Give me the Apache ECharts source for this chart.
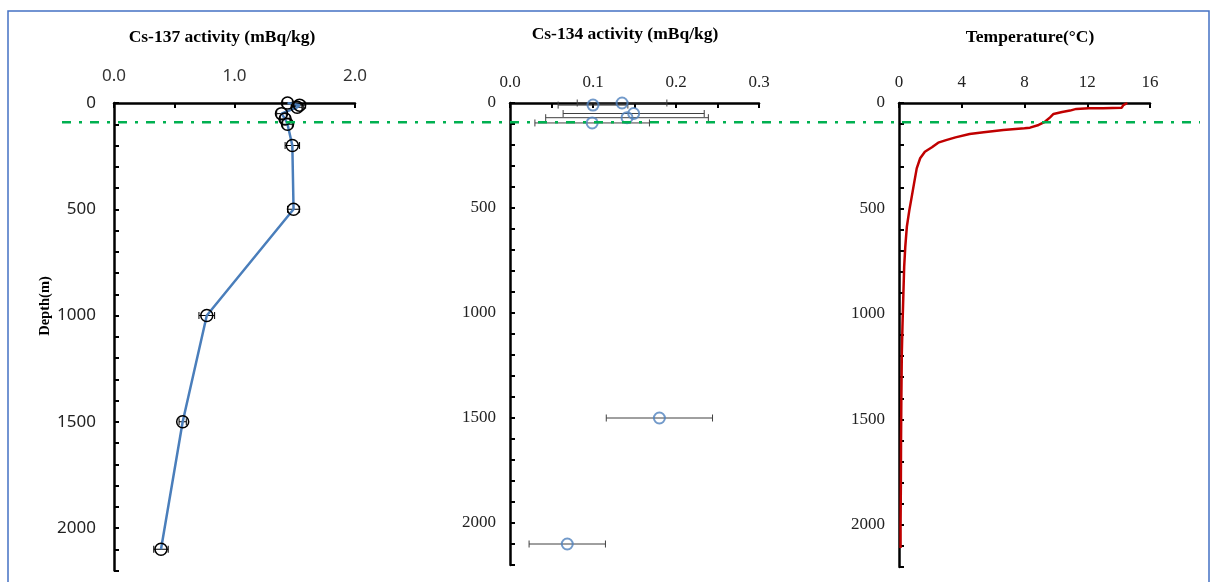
<!DOCTYPE html>
<html>
<head>
<meta charset="utf-8">
<script src="https://cdn.jsdelivr.net/npm/echarts@6/dist/echarts.min.js"></script>
<style>html,body{margin:0;padding:0;background:#fff;}#c{width:1212px;height:582px;}</style>
</head>
<body>
<div id="c"></div>
<script>
// ---- data ----
const cs137Depth = [0, 10, 20, 50, 75, 100, 200, 500, 1000, 1500, 2100];
const cs137Value = [1.44, 1.54, 1.52, 1.39, 1.42, 1.44, 1.48, 1.49, 0.77, 0.57, 0.39];
const cs137Error = [0.04, 0.05, 0.04, 0.04, 0.04, 0.04, 0.06, 0.05, 0.065, 0.03, 0.06];

const cs134Depth = [0, 10, 50, 70, 95, 1500, 2100];
const cs134Value = [0.135, 0.100, 0.149, 0.141, 0.099, 0.180, 0.069];
const cs134Error = [0.054, 0.042, 0.085, 0.098, 0.069, 0.064, 0.046];

const tempDepth = [0, 10, 22, 25, 25, 28, 36, 43, 52, 68, 89, 104, 117, 120, 128, 139, 147, 163, 176, 188, 210, 231, 262, 310, 381, 445, 508, 587, 682, 777, 903, 1062, 1187, 1400, 1600, 1800, 2000, 2110];
const tempValue = [14.55, 14.3, 14.2, 13.0, 12.1, 11.3, 10.9, 10.4, 9.85, 9.63, 9.3, 8.9, 8.35, 8.0, 6.65, 5.4, 4.5, 3.6, 3.0, 2.5, 2.1, 1.65, 1.35, 1.13, 0.96, 0.81, 0.66, 0.5, 0.4, 0.33, 0.28, 0.22, 0.18, 0.15, 0.13, 0.12, 0.1, 0.1];

const mixedLayerDepth = 90;

const panelTitles = ['Cs-137 activity (mBq/kg)', 'Cs-134 activity (mBq/kg)', 'Temperature(\u00B0C)'];
const depthLabel = 'Depth(m)';
const depthTicks = { min: 0, max: 2200, step: 100, labelStep: 500 };

// ---- build ----
const serif = 'Liberation Serif';
const sans = 'Noto Sans';
const cs137Pts = cs137Depth.map((d, i) => [cs137Value[i], d, cs137Error[i]]);
const cs134Pts = cs134Depth.map((d, i) => [cs134Value[i], d, cs134Error[i]]);
const tempPts = tempDepth.map((d, i) => [tempValue[i], d]);

function errRender(color) {
  return function (params, api) {
    const x = api.value(0), y = api.value(1), e = api.value(2);
    const a = api.coord([x - e, y]), b = api.coord([x + e, y]);
    const h = 3.5;
    const st = { stroke: color, lineWidth: 1 };
    return { type: 'group', children: [
      { type: 'line', shape: { x1: a[0], y1: a[1], x2: b[0], y2: b[1] }, style: st },
      { type: 'line', shape: { x1: a[0], y1: a[1] - h, x2: a[0], y2: a[1] + h }, style: st },
      { type: 'line', shape: { x1: b[0], y1: b[1] - h, x2: b[0], y2: b[1] + h }, style: st }
    ]};
  };
}

const axisLine = { show: true, onZero: false, lineStyle: { color: '#000', width: 2.5 } };
const axisTick = { show: true, inside: true, length: 5, lineStyle: { color: '#000', width: 2 } };

function yAx(gi, font, size, margin) {
  return {
    type: 'value', gridIndex: gi, inverse: true,
    min: depthTicks.min, max: depthTicks.max, interval: depthTicks.step,
    axisLine, axisTick, splitLine: { show: false },
    axisLabel: { margin, fontFamily: font, fontSize: size, color: '#222',
      formatter: v => (Math.round(v) % depthTicks.labelStep === 0 ? String(Math.round(v)) : '') }
  };
}

const option = {
  animation: false,
  backgroundColor: '#fff',
  grid: [
    { left: 114, top: 103, width: 241, height: 467.5 },
    { left: 510, top: 103, width: 249, height: 462 },
    { left: 899, top: 103, width: 251, height: 464 }
  ],
  xAxis: [
    { type: 'value', gridIndex: 0, position: 'top', min: 0, max: 2, interval: 0.5,
      axisLine, axisTick, splitLine: { show: false },
      axisLabel: { margin: 18, fontFamily: sans, fontSize: 17, color: '#333',
        formatter: v => (Math.abs(v - Math.round(v)) < 1e-6 ? v.toFixed(1) : '') } },
    { type: 'value', gridIndex: 1, position: 'top', min: 0, max: 0.3, interval: 0.05,
      axisLine, axisTick, splitLine: { show: false },
      axisLabel: { margin: 12, fontFamily: serif, fontSize: 17, color: '#222',
        formatter: v => (Math.abs(v * 10 - Math.round(v * 10)) < 1e-6 ? v.toFixed(1) : '') } },
    { type: 'value', gridIndex: 2, position: 'top', min: 0, max: 16, interval: 4,
      axisLine, axisTick, splitLine: { show: false },
      axisLabel: { margin: 12, fontFamily: serif, fontSize: 17, color: '#222' } }
  ],
  yAxis: [yAx(0, sans, 17, 18), yAx(1, serif, 17, 14), yAx(2, serif, 17, 14)],
  series: [
    { type: 'custom', xAxisIndex: 0, yAxisIndex: 0, data: cs137Pts, renderItem: errRender('#000'), z: 3 },
    { type: 'line', xAxisIndex: 0, yAxisIndex: 0, data: cs137Pts.map(p => [p[0], p[1]]),
      symbol: 'circle', symbolSize: 12,
      lineStyle: { color: '#4a7ebb', width: 2.5 },
      itemStyle: { color: 'rgba(0,0,0,0)', borderColor: '#000', borderWidth: 1.5 }, z: 4 },
    { type: 'custom', xAxisIndex: 1, yAxisIndex: 1, data: cs134Pts, renderItem: errRender('#404040'), z: 3 },
    { type: 'scatter', xAxisIndex: 1, yAxisIndex: 1, data: cs134Pts.map(p => [p[0], p[1]]),
      symbol: 'circle', symbolSize: 11,
      itemStyle: { color: 'rgba(255,255,255,0)', borderColor: '#4f81bd', borderWidth: 2 }, z: 4 },
    { type: 'line', xAxisIndex: 2, yAxisIndex: 2, data: tempPts, symbol: 'none',
      lineStyle: { color: '#c00000', width: 2.5 }, z: 4 }
  ]
};

const chart = echarts.init(document.getElementById('c'), null, { renderer: 'canvas' });
chart.setOption(option);

const py = chart.convertToPixel({ xAxisIndex: 0, yAxisIndex: 0 }, [0, mixedLayerDepth])[1];
const titleFont = { fontFamily: serif, fontWeight: 'bold', fontSize: 17.5, fill: '#000', textAlign: 'center', textVerticalAlign: 'middle' };
chart.setOption({
  graphic: [
    { type: 'rect', shape: { x: 8, y: 11, width: 1201, height: 620 }, style: { fill: 'none', stroke: '#4472c4', lineWidth: 1.5 }, z: 0, silent: true },
    { type: 'line', shape: { x1: 62, y1: py, x2: 1200, y2: py }, style: { stroke: '#00b050', lineWidth: 2.5, lineDash: [9, 8, 3, 8] }, z: 10 },
    { type: 'text', x: 222, y: 37, style: Object.assign({ text: panelTitles[0] }, titleFont) },
    { type: 'text', x: 625, y: 34, style: Object.assign({ text: panelTitles[1] }, titleFont) },
    { type: 'text', x: 1030, y: 37, style: Object.assign({ text: panelTitles[2] }, titleFont) },
    { type: 'text', x: 45, y: 306, rotation: Math.PI / 2, style: Object.assign({ text: depthLabel }, titleFont, { fontSize: 14.5 }) }
  ]
});
</script>
</body>
</html>
